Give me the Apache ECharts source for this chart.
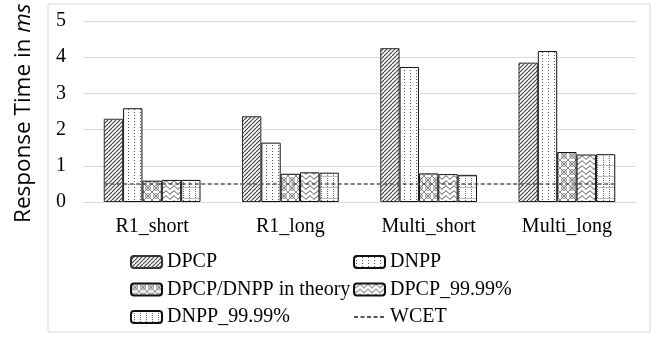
<!DOCTYPE html>
<html><head><meta charset="utf-8">
<script src="https://cdn.jsdelivr.net/npm/echarts@6/dist/echarts.min.js"></script>
<style>html,body{margin:0;padding:0;background:#fff;}#c{width:665px;height:345px;}</style>
</head><body><div id="c"></div>
<script>
const categories = ['R1_short', 'R1_long', 'Multi_short', 'Multi_long'];
const dpcp = [2.30, 2.37, 4.25, 3.85];
const dnpp = [2.59, 1.64, 3.73, 4.17];
const theory = [0.59, 0.78, 0.79, 1.38];
const dpcp9999 = [0.61, 0.82, 0.77, 1.31];
const dnpp9999 = [0.61, 0.81, 0.75, 1.32];
const wcet = 0.5;
const yTicks = [0, 1, 2, 3, 4, 5];

function pat(w, h, draw) {
  const c = document.createElement('canvas');
  c.width = w; c.height = h;
  const g = c.getContext('2d');
  g.fillStyle = '#fff'; g.fillRect(0, 0, w, h);
  draw(g);
  return { image: c, repeat: 'repeat' };
}
const pDPCP = pat(4, 4, g => {
  g.strokeStyle = '#3a3a3a'; g.lineWidth = 1.1;
  for (const k of [-4, 0, 4]) { g.beginPath(); g.moveTo(k, 4); g.lineTo(k + 4, 0); g.stroke(); }
});
const pDNPP = pat(6, 3, g => {
  g.fillStyle = '#555'; g.fillRect(2, 1, 1, 1);
});
const pTheory = pat(8, 8, g => {
  g.strokeStyle = '#666'; g.lineWidth = 0.8;
  g.beginPath(); g.moveTo(0, 0); g.lineTo(8, 8); g.moveTo(8, 0); g.lineTo(0, 8); g.stroke();
  g.beginPath(); g.arc(4, 4, 2.4, 0, Math.PI * 2); g.stroke();
});
const pDPCP99 = pat(8, 5, g => {
  g.strokeStyle = '#333'; g.lineWidth = 1;
  g.beginPath();
  for (let x = 0; x <= 8; x += 0.5) {
    const y = 2.5 + 1.5 * Math.sin(x / 8 * Math.PI * 2);
    if (x === 0) g.moveTo(x, y); else g.lineTo(x, y);
  }
  g.stroke();
});
const pDNPP99 = pat(6, 11, g => {
  g.fillStyle = '#666';
  for (let y = 0; y < 11; y += 2) g.fillRect(3, y, 1, 1);
  g.fillStyle = '#bbb'; g.fillRect(0, 0, 6, 1);
});

const serif = "'Liberation Serif', 'Times New Roman', serif";
const sans = "'Open Sans', 'Noto Sans', sans-serif";
const chart = echarts.init(document.getElementById('c'), null, { renderer: 'canvas' });

function barSeries(name, data, color, border) {
  return {
    name, type: 'bar', data,
    barGap: '0%', barCategoryGap: '30%',
    itemStyle: { color, borderColor: border || '#111', borderWidth: 1 },
    emphasis: { disabled: true }
  };
}

const legendText = { fontFamily: serif, fontSize: 20, color: '#000', lineHeight: 20 };

chart.setOption({
  animation: false,
  graphic: [{
    type: 'rect', shape: { x: 48, y: 4, width: 602, height: 328 },
    style: { fill: 'none', stroke: '#d9d9d9', lineWidth: 1 }, z: -1
  }, {
    type: 'text', x: 24, y: 223, rotation: Math.PI / 2,
    style: {
      text: 'Response Time in {i|ms}', fontFamily: sans, fontSize: 22.5, fill: '#000',
      align: 'left', verticalAlign: 'middle',
      rich: { i: { fontFamily: sans, fontStyle: 'italic', fontSize: 22.5, fill: '#000' } }
    }
  }],
  grid: { left: 83, right: 29, top: 21, bottom: 143 },
  legend: [
    { data: ['DPCP', 'DPCP/DNPP in theory', 'DNPP_99.99%'], orient: 'vertical', left: 130, top: 252, padding: 0,
      itemWidth: 31, itemHeight: 12, itemGap: 7.5, textStyle: legendText },
    { data: ['DNPP', 'DPCP_99.99%', { name: 'WCET', itemStyle: { opacity: 0 } }], orient: 'vertical', left: 353, top: 252, padding: 0,
      itemWidth: 31, itemHeight: 12, itemGap: 7.5, textStyle: legendText }
  ],
  xAxis: [{
    type: 'category', data: categories,
    axisLine: { lineStyle: { color: '#d9d9d9', width: 1 } },
    axisTick: { show: false },
    axisLabel: { fontFamily: serif, fontSize: 20, color: '#000', margin: 15 }
  }, {
    type: 'value', min: -0.5, max: 3.5, show: false
  }],
  yAxis: {
    type: 'value', min: 0, max: 5, interval: 1,
    axisLine: { show: false }, axisTick: { show: false },
    splitLine: { lineStyle: { color: '#d9d9d9', width: 1 } },
    axisLabel: { fontFamily: serif, fontSize: 20, color: '#000', margin: 17,
      formatter: v => yTicks.includes(v) ? String(v) : '' }
  },
  series: [
    barSeries('DPCP', dpcp, pDPCP, '#333'),
    barSeries('DNPP', dnpp, pDNPP),
    barSeries('DPCP/DNPP in theory', theory, pTheory),
    barSeries('DPCP_99.99%', dpcp9999, pDPCP99),
    barSeries('DNPP_99.99%', dnpp9999, pDNPP99),
    {
      name: 'WCET', type: 'line', xAxisIndex: 1, symbol: 'none',
      data: [[-0.35, wcet], [3.35, wcet]],
      lineStyle: { color: '#555', width: 1.5, type: [4, 2.5] },
      itemStyle: { color: '#555' },
      z: 5, emphasis: { disabled: true }
    }
  ]
});
</script></body></html>
